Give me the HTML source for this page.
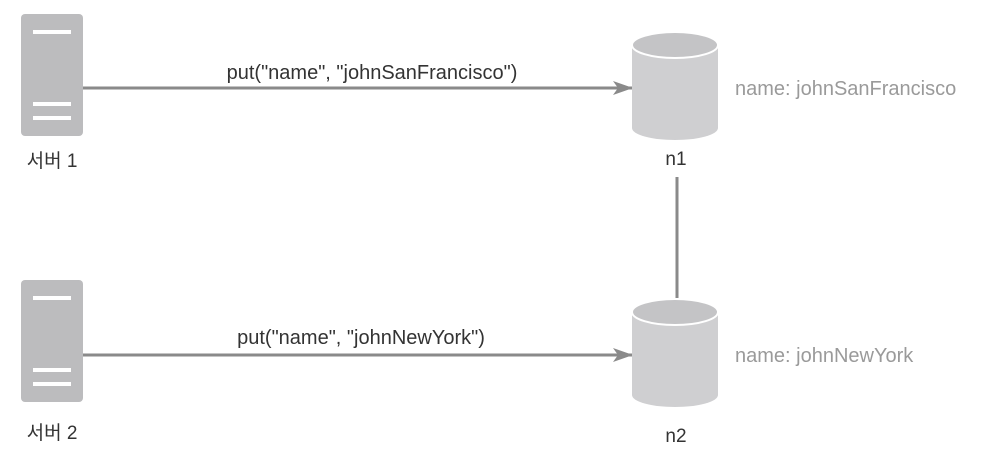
<!DOCTYPE html>
<html><head><meta charset="utf-8"><style>
body{margin:0;background:#fff;}
svg text{font-family:"Liberation Sans","Noto Sans CJK KR",sans-serif;}
</style></head><body>
<svg width="988" height="454" viewBox="0 0 988 454" xmlns="http://www.w3.org/2000/svg">
<defs>
<marker id="a" markerWidth="20" markerHeight="14" refX="19" refY="7" orient="auto" markerUnits="userSpaceOnUse"><path d="M0,0 L20,7 L0,14 L5,7 Z" fill="#8a8a8a"/></marker>
</defs>
<rect x="21" y="14" width="62" height="122" rx="4" fill="#bcbcbe"/>
<rect x="33" y="30" width="38" height="4" fill="#fff"/>
<rect x="33" y="102" width="38" height="4" fill="#fff"/>
<rect x="33" y="116" width="38" height="4" fill="#fff"/>
<text x="52" y="167" font-size="19" fill="#333" text-anchor="middle">서버 1</text>
<rect x="21" y="280" width="62" height="122" rx="4" fill="#bcbcbe"/>
<rect x="33" y="296" width="38" height="4" fill="#fff"/>
<rect x="33" y="368" width="38" height="4" fill="#fff"/>
<rect x="33" y="382" width="38" height="4" fill="#fff"/>
<text x="52" y="439" font-size="19" fill="#333" text-anchor="middle">서버 2</text>
<line x1="83" y1="88" x2="632" y2="88" stroke="#8a8a8a" stroke-width="3" marker-end="url(#a)"/>
<text x="372" y="79" font-size="20" fill="#333" text-anchor="middle">put("name", "johnSanFrancisco")</text>
<line x1="83" y1="355" x2="632" y2="355" stroke="#8a8a8a" stroke-width="3" marker-end="url(#a)"/>
<text x="361" y="344" font-size="20" fill="#333" text-anchor="middle">put("name", "johnNewYork")</text>
<line x1="677" y1="177" x2="677" y2="298" stroke="#8a8a8a" stroke-width="3"/>
<path d="M632,45 L632,128 A43,12 0 0 0 718,128 L718,45 Z" fill="#cfcfd1"/>
<ellipse cx="675" cy="45" rx="43" ry="13" fill="#c4c4c6" stroke="#fff" stroke-width="2"/>
<text x="676" y="165" font-size="19" fill="#333" text-anchor="middle">n1</text>
<text x="735" y="95" font-size="20" fill="#9a9a9a">name: johnSanFrancisco</text>
<path d="M632,312 L632,395 A43,12 0 0 0 718,395 L718,312 Z" fill="#cfcfd1"/>
<ellipse cx="675" cy="312" rx="43" ry="13" fill="#c4c4c6" stroke="#fff" stroke-width="2"/>
<text x="676" y="442" font-size="19" fill="#333" text-anchor="middle">n2</text>
<text x="735" y="362" font-size="20" fill="#9a9a9a">name: johnNewYork</text>
</svg>
</body></html>
